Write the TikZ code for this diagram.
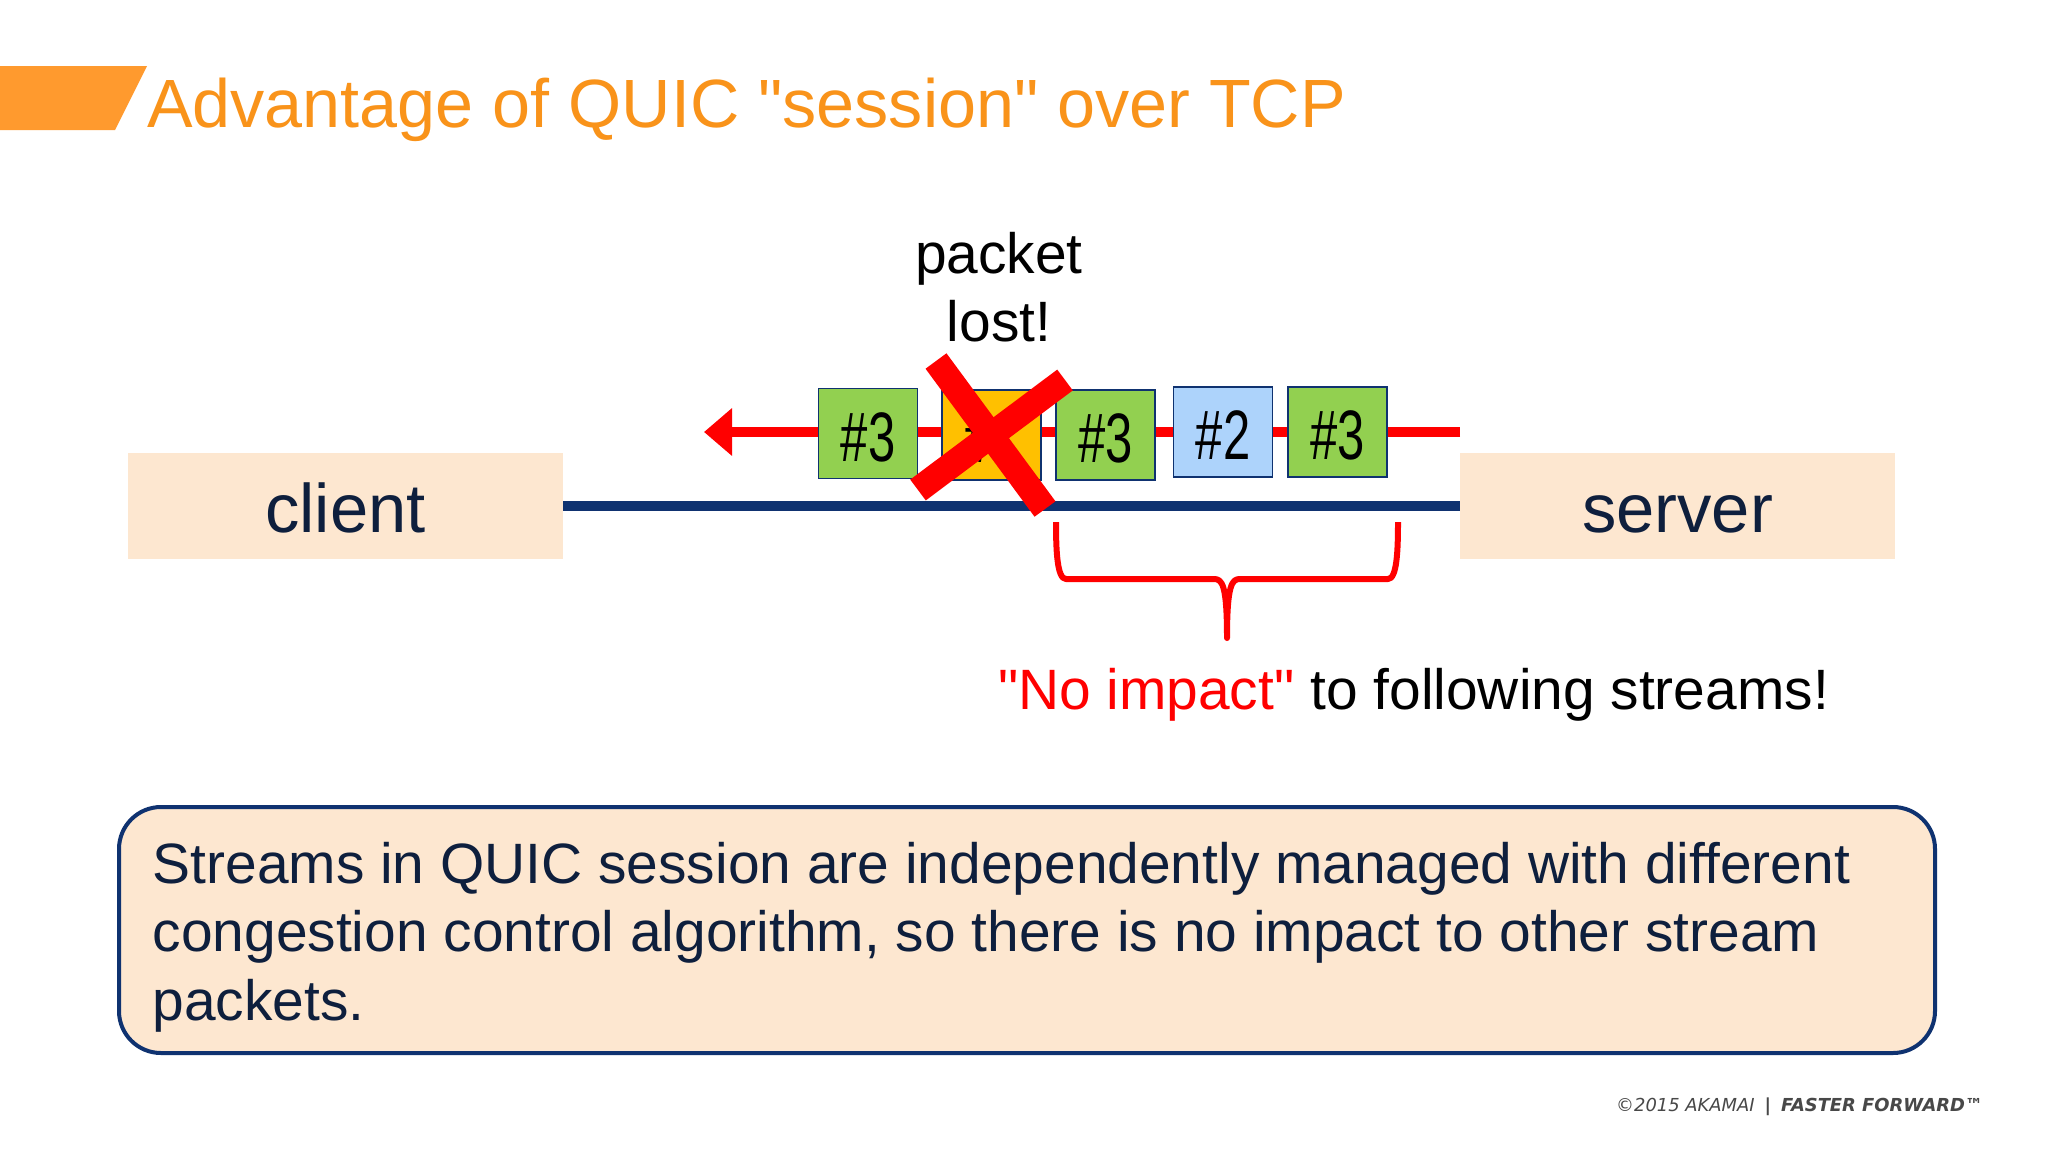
\documentclass[tikz,border=0pt]{standalone}
\usepackage{fontspec}
\setmainfont{Liberation Sans}[Ligatures=TeXOff]
\newfontfamily\footfont{DejaVu Sans}
\usetikzlibrary{arrows.meta}
\definecolor{titleorange}{HTML}{F9931A}
\definecolor{bannerorange}{HTML}{FF9A2E}
\definecolor{peach}{HTML}{FDE7D0}
\definecolor{navy}{HTML}{0F3270}
\definecolor{inktext}{HTML}{0E1F3D}
\definecolor{wirered}{HTML}{FF0000}
\definecolor{footgray}{HTML}{484848}
\tikzset{
  endbox/.style={fill=peach, minimum width=435pt, minimum height=106pt, inner sep=0pt, outer sep=0pt, text=inktext, text height=59pt, text depth=7pt, font=\fontsize{68.7}{68}\selectfont},
  pkt/.style={draw=navy, line width=1.6pt, minimum width=99pt, minimum height=90pt, inner sep=0pt, outer sep=0pt, text height=60pt, text depth=5pt},
  bigtext/.style={inner sep=0pt, outer sep=0pt, font=\fontsize{56.9}{68}\selectfont},
}
\newcommand{\pktlabel}[1]{\scalebox{0.70}[1]{\fontsize{70}{70}\selectfont #1}}
\begin{document}
\begin{tikzpicture}[x=1pt,y=-1pt]
  \useasboundingbox (0,0) rectangle (2048,1152);
  \fill[white] (0,0) rectangle (2048,1152);

  % title bar
  \fill[bannerorange] (0,66) -- (147,66) -- (115,130) -- (0,130) -- cycle;
  \node[anchor=base west, inner sep=0pt, text=titleorange, font=\fontsize{68.3}{68}\selectfont] (title) at (147,127) {Advantage of QUIC "session" over TCP};

  % client and server
  \node[endbox] (client) at (345.5,506) {client};
  \node[endbox] (server) at (1677.5,506) {server};
  \draw[navy, line width=10pt] (client) -- (server);

  % red stream line goes behind the packets
  \coordinate (wirein) at (1460,432);
  \coordinate (wireout) at (704,432);
  \draw[wirered, line width=10pt, -{Triangle[length=28pt,width=46pt]}] (wirein) -- (wireout);

  % packets
  \foreach \name/\cx/\cy/\col/\lab in {p1/868/433.5/92D050/{\#3}, p2/991.5/435/FFC000/{\#1}, p3/1105.5/435/92D050/{\#3}, p4/1223/432/ADD3FB/{\#2}, p5/1337.5/432/92D050/{\#3}} {
    \definecolor{pktfill}{HTML}{\col}
    \node[pkt, fill=pktfill] (\name) at (\cx,\cy) {\pktlabel{\lab}};
  }

  % lost packet
  \node[bigtext, anchor=base, align=center] (lost) at (999,341) {packet\\lost!};
  \coordinate (xa) at (936,361);
  \coordinate (xb) at (1045,509);
  \coordinate (xc) at (1065,380);
  \coordinate (xd) at (918,490);
  \draw[wirered, line width=26pt] (xa) -- (xb);
  \draw[wirered, line width=26pt] (xc) -- (xd);

  % brace
  \coordinate (bl) at (1056,522);
  \coordinate (br) at (1398,522);
  \coordinate (bm) at (1227,638);
  \draw[wirered, line width=6pt, line join=round]
    (bl) .. controls (1056,550) and (1057,579) .. (1066,579)
    -- (1214,579) .. controls (1222,579) and (1227,584) .. (bm)
    .. controls (1227,584) and (1232,579) .. (1240,579)
    -- (1388,579) .. controls (1397,579) and (1398,550) .. (br);
  \node[bigtext, anchor=base west] (impact) at (998,709) {\textcolor{wirered}{"No impact"} to following streams!};

  % note
  \node[draw=navy, fill=peach, line width=4pt, rounded corners=42pt, minimum width=1816pt, minimum height=246pt, inner sep=0pt, outer sep=0pt, anchor=north west] (note) at (119,807) {};
  \node[anchor=base west, inner sep=0pt, text=inktext, align=left, font=\fontsize{56.9}{68.5}\selectfont] (notetext) at (152.5,1020) {Streams in QUIC session are independently managed with different\\congestion control algorithm, so there is no impact to other stream\\packets.};

  % footer
  \node[anchor=base west, inner sep=0pt, text=footgray, font=\footfont\fontsize{17.9}{18}\selectfont] (foot) at (1616,1111) {\textit{©2015 AKAMAI}\hspace{10pt}\textbf{|}\hspace{10pt}\textbf{\textit{FASTER FORWARD™}}};
\end{tikzpicture}
\end{document}
